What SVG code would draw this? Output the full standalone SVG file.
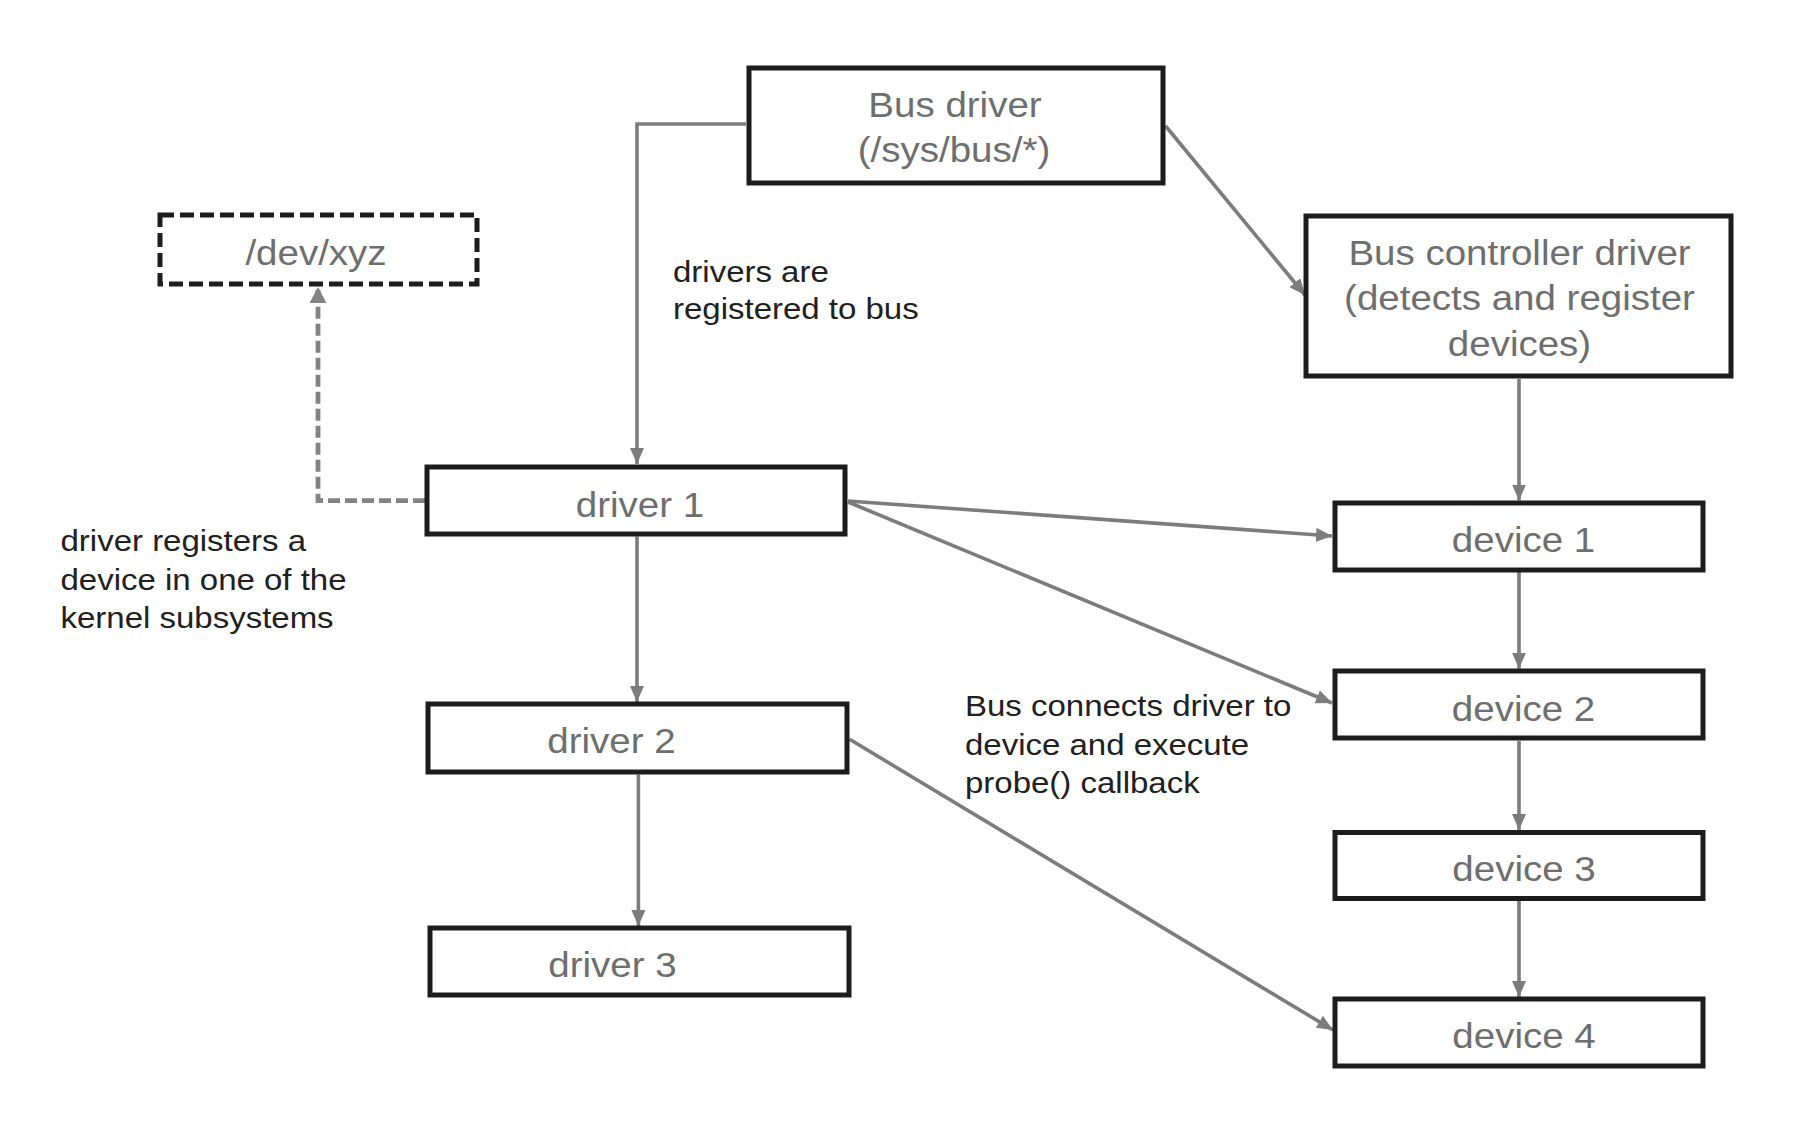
<svg xmlns="http://www.w3.org/2000/svg" width="1812" height="1148" viewBox="0 0 1812 1148">
<defs>
<style>
.box{fill:#ffffff;stroke:#1c1c1c;stroke-width:5}
.dbox{fill:#ffffff;stroke:#1c1c1c;stroke-width:5;stroke-dasharray:14 6}
.nt{font-family:"Liberation Sans",Arial,sans-serif;font-size:35px;fill:#6e6e6e;text-anchor:middle}
.lt{font-family:"Liberation Sans",Arial,sans-serif;font-size:30px;fill:#202020}
.con{fill:none;stroke:#7c7c7c;stroke-width:3.6;marker-end:url(#arr)}
.dcon{fill:none;stroke:#838383;stroke-width:4.8;stroke-dasharray:12 5;marker-end:url(#darr)}
</style>
<marker id="arr" markerUnits="userSpaceOnUse" markerWidth="16" markerHeight="14" viewBox="0 0 16 14" refX="16" refY="7" orient="auto">
<path d="M0,0 L16,7 L0,14 z" fill="#7c7c7c"/>
</marker>
<marker id="darr" markerUnits="userSpaceOnUse" markerWidth="16" markerHeight="17" viewBox="0 0 16 17" refX="16" refY="8.5" orient="auto">
<path d="M0,0 L16,8.5 L0,17 z" fill="#838383"/>
</marker>
</defs>
<rect width="1812" height="1148" fill="#ffffff"/>

<g id="connectors">
<path class="con" d="M746,124 H637 V464"/>
<path class="con" d="M1165.6,126 L1305,295"/>
<path class="con" d="M848,501 L1332,536"/>
<path class="con" d="M848,502 L1332,703"/>
<path class="con" d="M849.6,739.3 L1333,1030"/>
<path class="con" d="M1519,379 V500.5"/>
<path class="con" d="M1519,572 V668.7"/>
<path class="con" d="M1519,741 V830"/>
<path class="con" d="M1519,901 V997"/>
<path class="con" d="M637,536.5 V702"/>
<path class="con" d="M638.4,774.5 V926"/>
<path class="dcon" d="M425,500.7 H318 V287"/>
</g>

<g id="bus-driver">
<rect class="box" x="749" y="68" width="414" height="115"/>
<text class="nt" transform="translate(955 116.5) scale(1.1 1)">Bus driver</text>
<text class="nt" transform="translate(954 161.7) scale(1.1 1)">(/sys/bus/*)</text>
</g>

<g id="bus-controller-driver">
<rect class="box" x="1306" y="216" width="425" height="160"/>
<text class="nt" transform="translate(1519.5 265) scale(1.1 1)">Bus controller driver</text>
<text class="nt" transform="translate(1519.5 310) scale(1.1 1)">(detects and register</text>
<text class="nt" transform="translate(1519.5 355.5) scale(1.1 1)">devices)</text>
</g>

<g id="dev-xyz">
<rect class="dbox" x="160" y="215" width="317" height="69"/>
<text class="nt" transform="translate(316 265) scale(1.1 1)">/dev/xyz</text>
</g>

<g id="driver1">
<rect class="box" x="427" y="467" width="418" height="67"/>
<text class="nt" transform="translate(640 516.6) scale(1.1 1)">driver 1</text>
</g>

<g id="driver2">
<rect class="box" x="428" y="704" width="419" height="68"/>
<text class="nt" transform="translate(611.4 752.7) scale(1.1 1)">driver 2</text>
</g>

<g id="driver3">
<rect class="box" x="430" y="928" width="419" height="67"/>
<text class="nt" transform="translate(612.4 976.6) scale(1.1 1)">driver 3</text>
</g>

<g id="device1">
<rect class="box" x="1335" y="503" width="368" height="67"/>
<text class="nt" transform="translate(1523.5 551.6) scale(1.1 1)">device 1</text>
</g>

<g id="device2">
<rect class="box" x="1335" y="671" width="368" height="67"/>
<text class="nt" transform="translate(1523.5 720.6) scale(1.1 1)">device 2</text>
</g>

<g id="device3">
<rect class="box" x="1335" y="832.5" width="368" height="66"/>
<text class="nt" transform="translate(1524 880.5) scale(1.1 1)">device 3</text>
</g>

<g id="device4">
<rect class="box" x="1335" y="999" width="368" height="67"/>
<text class="nt" transform="translate(1524 1048) scale(1.1 1)">device 4</text>
</g>

<g id="label-registered">
<text class="lt" transform="translate(673 281.7) scale(1.1 1)">drivers are</text>
<text class="lt" transform="translate(673 319.3) scale(1.1 1)">registered to bus</text>
</g>

<g id="label-subsystem">
<text class="lt" transform="translate(60.5 551.2) scale(1.1 1)">driver registers a</text>
<text class="lt" transform="translate(60.5 589.6) scale(1.1 1)">device in one of the</text>
<text class="lt" transform="translate(60.5 628.2) scale(1.1 1)">kernel subsystems</text>
</g>

<g id="label-probe">
<text class="lt" transform="translate(965 716) scale(1.1 1)">Bus connects driver to</text>
<text class="lt" transform="translate(965 754.5) scale(1.1 1)">device and execute</text>
<text class="lt" transform="translate(965 793) scale(1.1 1)">probe() callback</text>
</g>
</svg>
